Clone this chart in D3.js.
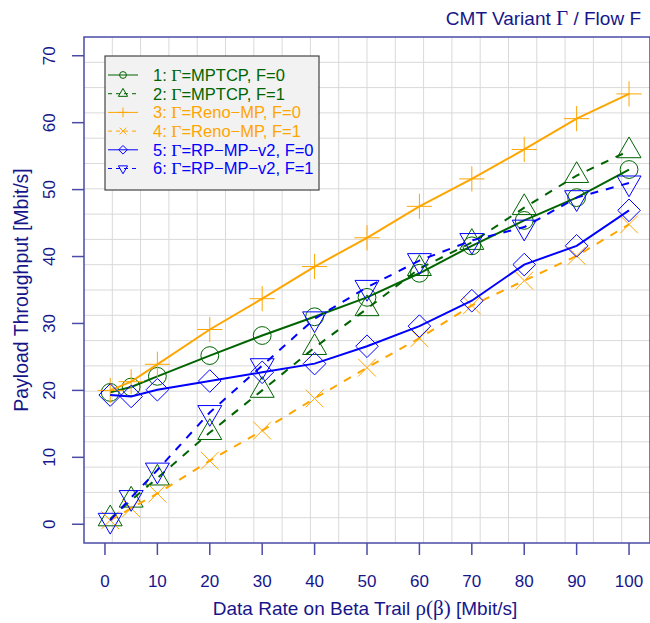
<!DOCTYPE html>
<html>
<head>
<meta charset="utf-8">
<script src="https://cdn.jsdelivr.net/npm/d3@7"></script>
<style>
  body { margin: 0; background: #fff; }
  svg { font-family: "Liberation Sans", Arial, sans-serif; }
</style>
</head>
<body>
<div id="chart"></div>
<script>
// data
const rates = [1, 5, 10, 20, 30, 40, 50, 60, 70, 80, 90, 100]
const mptcpF0 = [19.7, 20.5, 22.1, 25.2, 28.2, 31.0, 33.9, 37.5, 41.6, 45.4, 48.8, 53.0]
const mptcpF1 = [0.8, 3.6, 6.9, 13.7, 20.0, 26.4, 32.2, 38.2, 42.1, 47.3, 52.1, 55.8]
const renoF0 = [20.0, 21.3, 23.9, 29.1, 33.7, 38.5, 42.8, 47.5, 51.6, 56.0, 60.6, 64.3]
const renoF1 = [0.6, 2.4, 4.6, 9.5, 14.0, 18.8, 23.4, 27.8, 32.7, 36.4, 40.1, 44.8]
const rpmpF0 = [19.3, 19.1, 20.1, 21.4, 22.7, 24.0, 26.6, 29.6, 33.4, 38.8, 41.6, 46.9]
const rpmpF1 = [0.6, 4.0, 8.1, 16.7, 23.7, 30.7, 35.4, 39.4, 42.4, 44.4, 48.8, 51.0]
const xTicks = d3.range(0, 101, 10)
const yTicks = d3.range(0, 71, 10)

const series = [
  {id: 1, name: "MPTCP", flow: 0, values: mptcpF0, color: "#006400", pch: "circle", dashed: false},
  {id: 2, name: "MPTCP", flow: 1, values: mptcpF1, color: "#006400", pch: "triUp", dashed: true},
  {id: 3, name: "Reno\u2212MP", flow: 0, values: renoF0, color: "#FFA500", pch: "plus", dashed: false},
  {id: 4, name: "Reno\u2212MP", flow: 1, values: renoF1, color: "#FFA500", pch: "cross", dashed: true},
  {id: 5, name: "RP\u2212MP\u2212v2", flow: 0, values: rpmpF0, color: "#0000FF", pch: "diamond", dashed: false},
  {id: 6, name: "RP\u2212MP\u2212v2", flow: 1, values: rpmpF1, color: "#0000FF", pch: "triDown", dashed: true}
]

const width = 650, height = 623
const frameCol = "#4b4ba8", textCol = "#16168a", gridCol = "#d9d9d9"
const svg = d3.select("#chart").append("svg")
  .attr("width", width)
  .attr("height", height)

// plot region (R-style 4% padding)
const x = d3.scaleLinear().domain([-4, 104]).range([84, 650])
const y = d3.scaleLinear().domain([-2.8, 72.8]).range([543, 37])

// grid: 20 equal cells across the region
const gx = d3.range(1, 20).map(k => 84 + k * (650 - 84) / 20)
const gy = d3.range(1, 20).map(k => 37 + k * (543 - 37) / 20)
svg.append("g").selectAll("line").data(gx).enter().append("line")
  .attr("x1", d => d).attr("x2", d => d).attr("y1", 37).attr("y2", 543)
  .attr("stroke", gridCol).attr("stroke-width", 1)
svg.append("g").selectAll("line").data(gy).enter().append("line")
  .attr("y1", d => d).attr("y2", d => d).attr("x1", 84).attr("x2", 650)
  .attr("stroke", gridCol).attr("stroke-width", 1)

// marker shapes (R pch 1..6)
const R = 8.9
function marker(g, type, r, color) {
  const p = d3.path()
  if (type === "circle") {
    g.append("circle").attr("r", r).attr("fill", "none").attr("stroke", color)
    return
  }
  if (type === "triUp" || type === "triDown") {
    const s = type === "triUp" ? -1 : 1
    const rr = 1.555 * r, xc = 1.347 * r, yc = 0.7776 * r
    p.moveTo(0, s * rr); p.lineTo(xc, -s * yc); p.lineTo(-xc, -s * yc); p.closePath()
  } else if (type === "plus") {
    const a = 1.414 * r
    p.moveTo(-a, 0); p.lineTo(a, 0); p.moveTo(0, -a); p.lineTo(0, a)
  } else if (type === "cross") {
    p.moveTo(-r, -r); p.lineTo(r, r); p.moveTo(-r, r); p.lineTo(r, -r)
  } else if (type === "diamond") {
    const a = 1.27 * r
    p.moveTo(0, -a); p.lineTo(a, 0); p.lineTo(0, a); p.lineTo(-a, 0); p.closePath()
  }
  g.append("path").attr("d", p.toString()).attr("fill", "none").attr("stroke", color)
}

const line = d3.line().x(d => x(d[0])).y(d => y(d[1]))

series.forEach(s => {
  const pts = rates.map((r, i) => [r, s.values[i]])
  svg.append("path")
    .datum(pts)
    .attr("d", line)
    .attr("fill", "none")
    .attr("stroke", s.color)
    .attr("stroke-width", 2)
    .attr("stroke-dasharray", s.dashed ? "8,8" : null)
  pts.forEach(d => {
    const g = svg.append("g").attr("transform", "translate(" + x(d[0]) + "," + y(d[1]) + ")")
    marker(g, s.pch, R, s.color)
  })
})

// frame
svg.append("rect")
  .attr("x", 84).attr("y", 37).attr("width", 566).attr("height", 506)
  .attr("fill", "none").attr("stroke", frameCol).attr("stroke-width", 1.5)

// y axis ticks + labels
yTicks.forEach(t => {
  svg.append("line").attr("x1", 72).attr("x2", 84).attr("y1", y(t)).attr("y2", y(t))
    .attr("stroke", frameCol).attr("stroke-width", 1.5)
  svg.append("text")
    .attr("transform", "translate(55," + y(t) + ") rotate(-90)")
    .attr("text-anchor", "middle")
    .attr("font-size", 17)
    .attr("fill", textCol)
    .text(t)
})
// x axis ticks + labels
xTicks.forEach(t => {
  svg.append("line").attr("y1", 543).attr("y2", 555).attr("x1", x(t)).attr("x2", x(t))
    .attr("stroke", frameCol).attr("stroke-width", 1.5)
  svg.append("text")
    .attr("x", x(t)).attr("y", 587)
    .attr("text-anchor", "middle")
    .attr("font-size", 17)
    .attr("fill", textCol)
    .text(t)
})

// titles
const greek = "'Liberation Serif', 'DejaVu Serif', serif"
const xt = svg.append("text")
  .attr("x", 365).attr("y", 615)
  .attr("text-anchor", "middle")
  .attr("font-size", 19)
  .attr("fill", textCol)
xt.append("tspan").text("Data Rate on Beta Trail ")
xt.append("tspan").attr("font-family", greek).attr("font-size", 21).text("\u03C1(\u03B2)")
xt.append("tspan").text(" [Mbit/s]")

svg.append("text")
  .attr("transform", "translate(28,290) rotate(-90)")
  .attr("text-anchor", "middle")
  .attr("font-size", 19.5)
  .attr("fill", textCol)
  .text("Payload Throughput [Mbit/s]")

const tt = svg.append("text")
  .attr("x", 641).attr("y", 25)
  .attr("text-anchor", "end")
  .attr("font-size", 19)
  .attr("fill", textCol)
tt.append("tspan").text("CMT Variant ")
tt.append("tspan").attr("font-family", greek).attr("font-size", 21).text("\u0393")
tt.append("tspan").text(" / Flow F")

// legend
const legend = svg.append("g")
legend.append("rect")
  .attr("x", 105).attr("y", 56).attr("width", 214).attr("height", 134)
  .attr("fill", "#f2f2f2").attr("stroke", "#444").attr("stroke-width", 1.2)
series.forEach((s, i) => {
  const ly = 75 + i * 18.7
  legend.append("line")
    .attr("x1", 108).attr("x2", 138).attr("y1", ly).attr("y2", ly)
    .attr("stroke", s.color).attr("stroke-width", 1)
    .attr("stroke-dasharray", s.dashed ? "4,4" : null)
  const g = legend.append("g").attr("transform", "translate(123," + ly + ")")
  marker(g, s.pch, 3.4, s.color)
  const t = legend.append("text")
    .attr("x", 153).attr("y", ly + 5.8)
    .attr("font-size", 16.5)
    .attr("fill", s.color)
  t.append("tspan").text(s.id + ": ")
  t.append("tspan").attr("font-family", greek).attr("font-size", 17.5).text("\u0393")
  t.append("tspan").text("=" + s.name + ", F=" + s.flow)
})
</script>
</body>
</html>
